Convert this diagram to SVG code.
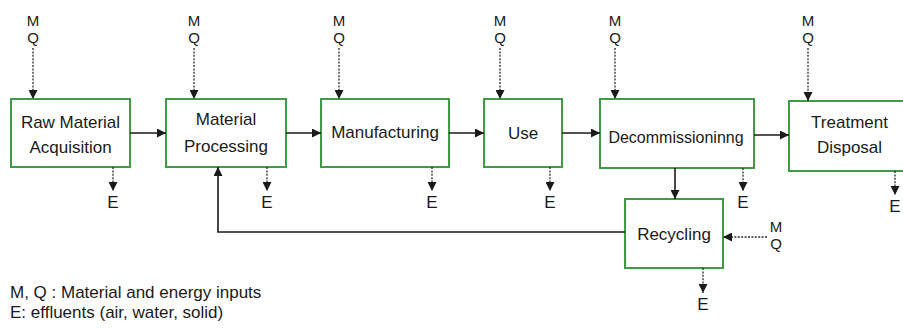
<svg xmlns="http://www.w3.org/2000/svg" width="903" height="328" viewBox="0 0 903 328">
<style>
.box{fill:#ffffff;stroke:#3f9b45;stroke-width:2}
.t{font-family:"Liberation Sans",Arial,sans-serif;font-size:17px;fill:#1a1a1a;text-anchor:middle}
.mq{font-family:"Liberation Sans",Arial,sans-serif;font-size:15px;fill:#1a1a1a;text-anchor:middle}
.lg{font-family:"Liberation Sans",Arial,sans-serif;font-size:17px;fill:#1a1a1a}
.solid{stroke:#1a1a1a;stroke-width:1.6;fill:none}
.dot{stroke:#2a2a2a;stroke-width:1.3;stroke-dasharray:2,1.4;fill:none}
</style>
<defs>
<marker id="ah" viewBox="0 0 10 10" refX="10" refY="5" markerWidth="10" markerHeight="9" markerUnits="userSpaceOnUse" orient="auto">
<path d="M0,0 L10,5 L0,10 z" fill="#1a1a1a"/>
</marker>
</defs>
<rect width="903" height="328" fill="#ffffff"/>

<g id="raw-material-acquisition">
<rect class="box" x="11" y="99" width="119" height="68"/>
<text class="t" x="70.5" y="128">Raw Material</text>
<text class="t" x="70.5" y="153">Acquisition</text>
</g>
<g id="material-processing">
<rect class="box" x="166" y="99" width="120" height="68"/>
<text class="t" x="226" y="125">Material</text>
<text class="t" x="226" y="152">Processing</text>
</g>
<g id="manufacturing">
<rect class="box" x="321" y="99" width="128" height="68"/>
<text class="t" x="385" y="138">Manufacturing</text>
</g>
<g id="use">
<rect class="box" x="484" y="99" width="78" height="68"/>
<text class="t" x="523" y="139">Use</text>
</g>
<g id="decommissioning">
<rect class="box" x="600" y="99" width="154" height="69"/>
<text class="t" x="676" y="143" style="font-size:16px">Decommissioninng</text>
</g>
<g id="treatment-disposal">
<rect class="box" x="789" y="101" width="121" height="70"/>
<text class="t" x="849.5" y="128">Treatment</text>
<text class="t" x="849.5" y="153">Disposal</text>
</g>
<g id="recycling">
<rect class="box" x="625" y="199" width="98" height="69"/>
<text class="t" x="674" y="240">Recycling</text>
</g>

<g id="inputs-outputs">
<text class="mq" x="33" y="26">M</text><text class="mq" x="33" y="43">Q</text>
<text class="mq" x="194" y="26">M</text><text class="mq" x="194" y="43">Q</text>
<text class="mq" x="339" y="26">M</text><text class="mq" x="339" y="43">Q</text>
<text class="mq" x="500" y="26">M</text><text class="mq" x="500" y="43">Q</text>
<text class="mq" x="615" y="26">M</text><text class="mq" x="615" y="43">Q</text>
<text class="mq" x="808" y="26">M</text><text class="mq" x="808" y="43">Q</text>
<text class="mq" x="776" y="232">M</text><text class="mq" x="776" y="249">Q</text>
<text class="t" x="113" y="208">E</text>
<text class="t" x="267" y="208">E</text>
<text class="t" x="432" y="208">E</text>
<text class="t" x="550" y="208">E</text>
<text class="t" x="743" y="208">E</text>
<text class="t" x="895" y="212">E</text>
<text class="t" x="703" y="310">E</text>
</g>

<g id="connectors">
<line class="solid" x1="130" y1="133" x2="166" y2="133" marker-end="url(#ah)"/>
<line class="solid" x1="286" y1="133" x2="321" y2="133" marker-end="url(#ah)"/>
<line class="solid" x1="449" y1="133" x2="484" y2="133" marker-end="url(#ah)"/>
<line class="solid" x1="562" y1="133" x2="600" y2="133" marker-end="url(#ah)"/>
<line class="solid" x1="754" y1="135" x2="789" y2="135" marker-end="url(#ah)"/>
<line class="solid" x1="675" y1="168" x2="675" y2="199" marker-end="url(#ah)"/>
<polyline class="solid" points="625,232 218,232 218,167" marker-end="url(#ah)"/>

<line class="dot" x1="33" y1="48" x2="33" y2="99" marker-end="url(#ah)"/>
<line class="dot" x1="194" y1="48" x2="194" y2="99" marker-end="url(#ah)"/>
<line class="dot" x1="339" y1="48" x2="339" y2="99" marker-end="url(#ah)"/>
<line class="dot" x1="500" y1="48" x2="500" y2="99" marker-end="url(#ah)"/>
<line class="dot" x1="615" y1="48" x2="615" y2="99" marker-end="url(#ah)"/>
<line class="dot" x1="808" y1="48" x2="808" y2="101" marker-end="url(#ah)"/>
<line class="dot" x1="767" y1="237" x2="723" y2="237" marker-end="url(#ah)"/>

<line class="dot" x1="113" y1="167" x2="113" y2="191" marker-end="url(#ah)"/>
<line class="dot" x1="267" y1="167" x2="267" y2="191" marker-end="url(#ah)"/>
<line class="dot" x1="432" y1="167" x2="432" y2="191" marker-end="url(#ah)"/>
<line class="dot" x1="550" y1="167" x2="550" y2="191" marker-end="url(#ah)"/>
<line class="dot" x1="743" y1="168" x2="743" y2="191" marker-end="url(#ah)"/>
<line class="dot" x1="895" y1="171" x2="895" y2="195" marker-end="url(#ah)"/>
<line class="dot" x1="703" y1="268" x2="703" y2="293" marker-end="url(#ah)"/>
</g>

<g id="legend">
<text class="lg" x="10" y="298">M, Q : Material and energy inputs</text>
<text class="lg" x="10" y="318">E: effluents (air, water, solid)</text>
</g>
</svg>
